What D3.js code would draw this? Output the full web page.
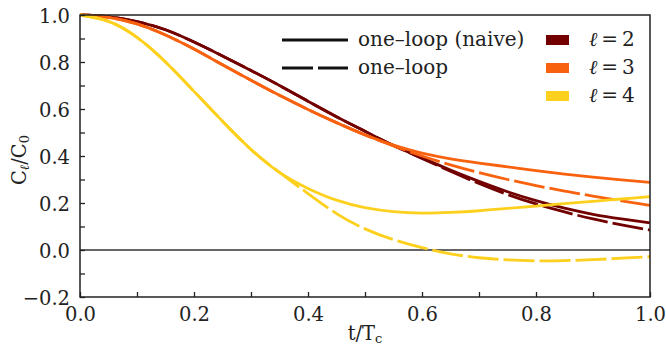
<!DOCTYPE html>
<html>
<head>
<meta charset="utf-8">
<script src="https://cdn.jsdelivr.net/npm/d3@7"></script>
<style>
  body { margin: 0; background: #fff; }
  text { font-family: "DejaVu Serif", serif; fill: #222; }
</style>
</head>
<body>
<div class="chart"></div>
<script>
var svgWidth = 666;
var svgHeight = 353;

var margin = { top: 15, right: 16, bottom: 56, left: 80 };
var width = svgWidth - margin.left - margin.right;
var height = svgHeight - margin.top - margin.bottom;

// t/Tc sample points
var tValues = [0, 0.05, 0.1, 0.15, 0.2, 0.25, 0.3, 0.35, 0.4, 0.45, 0.5,
  0.55, 0.6, 0.65, 0.7, 0.75, 0.8, 0.85, 0.9, 0.95, 1.0];

// one-loop (naive), solid
var naiveL2 = [1.0, 0.993, 0.972, 0.937, 0.885, 0.826, 0.764, 0.70, 0.633, 0.567, 0.505,
  0.445, 0.392, 0.34, 0.292, 0.248, 0.21, 0.178, 0.152, 0.132, 0.115];
var naiveL3 = [1.0, 0.99, 0.962, 0.915, 0.855, 0.788, 0.722, 0.658, 0.598, 0.542, 0.49,
  0.446, 0.412, 0.388, 0.37, 0.354, 0.338, 0.323, 0.31, 0.298, 0.288];
var naiveL4 = [1.0, 0.973, 0.905, 0.80, 0.675, 0.548, 0.428, 0.33, 0.262, 0.212, 0.18,
  0.163, 0.157, 0.16, 0.167, 0.177, 0.187, 0.197, 0.207, 0.217, 0.227];

// one-loop, dashed
var loopL2 = [1.0, 0.993, 0.972, 0.937, 0.885, 0.826, 0.764, 0.70, 0.633, 0.567, 0.505,
  0.445, 0.39, 0.335, 0.283, 0.236, 0.196, 0.162, 0.132, 0.107, 0.085];
var loopL3 = [1.0, 0.99, 0.962, 0.915, 0.855, 0.788, 0.722, 0.658, 0.598, 0.542, 0.49,
  0.443, 0.40, 0.362, 0.329, 0.30, 0.274, 0.251, 0.229, 0.209, 0.19];
var loopL4 = [1.0, 0.973, 0.905, 0.80, 0.675, 0.548, 0.428, 0.33, 0.24, 0.155, 0.09,
  0.044, 0.01, -0.016, -0.033, -0.042, -0.046, -0.045, -0.041, -0.035, -0.028];

var ells = ["2", "3", "4"];
var colors = ["#730000", "#f8620e", "#fdd01e"];

var xTicks = d3.range(0, 1.0001, 0.1);
var yTicks = d3.range(-0.2, 1.0001, 0.1);

var svg = d3.select(".chart")
  .append("svg")
  .attr("width", svgWidth)
  .attr("height", svgHeight);

var chartGroup = svg.append("g")
  .attr("transform", `translate(${margin.left}, ${margin.top})`);

var xScale = d3.scaleLinear().domain([0, 1]).range([0, width]);
var yScale = d3.scaleLinear().domain([-0.2, 1.0]).range([height, 0]);

// zero line
chartGroup.append("line")
  .attr("x1", 0).attr("x2", width)
  .attr("y1", yScale(0)).attr("y2", yScale(0))
  .attr("stroke", "#333").attr("stroke-width", 1.5);

// curves
var line = d3.line()
  .x(d => xScale(d[0]))
  .y(d => yScale(d[1]))
  .curve(d3.curveNatural);

var naive = [naiveL2, naiveL3, naiveL4];
var loop = [loopL2, loopL3, loopL4];

naive.forEach(function(vals, i) {
  chartGroup.append("path")
    .datum(tValues.map((t, j) => [t, vals[j]]))
    .attr("d", line)
    .attr("fill", "none")
    .attr("stroke", colors[i])
    .attr("stroke-width", 2.8);
  chartGroup.append("path")
    .datum(tValues.map((t, j) => [t, loop[i][j]]))
    .attr("d", line)
    .attr("fill", "none")
    .attr("stroke", colors[i])
    .attr("stroke-width", 2.8)
    .attr("stroke-dasharray", "31,5");
});

// axes, ticks inside
var fmt = d3.format(".1f");
var bottomAxis = d3.axisBottom(xScale)
  .tickValues(xTicks)
  .tickSizeInner(-5).tickSizeOuter(0).tickPadding(10)
  .tickFormat(d => Math.round(d * 10) % 2 === 0 ? fmt(d) : "");
var leftAxis = d3.axisLeft(yScale)
  .tickValues(yTicks)
  .tickSizeInner(-5).tickSizeOuter(0).tickPadding(10)
  .tickFormat(d => Math.round(d * 10) % 2 === 0 ? fmt(d).replace("-", "\u2212") : "");

var xAxis = chartGroup.append("g")
  .attr("transform", `translate(0, ${height})`)
  .call(bottomAxis);
var yAxis = chartGroup.append("g")
  .call(leftAxis);

[xAxis, yAxis].forEach(function(ax) {
  ax.select(".domain").remove();
  ax.selectAll(".tick line").attr("stroke", "#222").attr("stroke-width", 1.3);
  ax.selectAll(".tick text")
    .style("font-family", "'DejaVu Serif', serif")
    .style("font-size", "19.5px")
    .attr("fill", "#222");
});
yAxis.selectAll(".tick text").attr("dy", "0.36em");
xAxis.selectAll(".tick text").attr("dy", "0.72em");

// frame
chartGroup.append("rect")
  .attr("x", 0).attr("y", 0)
  .attr("width", width).attr("height", height)
  .attr("fill", "none")
  .attr("stroke", "#222")
  .attr("stroke-width", 1.5);

// axis labels
var xLabel = svg.append("text")
  .attr("x", margin.left + width / 2)
  .attr("y", 340)
  .attr("text-anchor", "middle")
  .style("font-size", "19.5px");
xLabel.append("tspan").text("t/T");
xLabel.append("tspan").attr("baseline-shift", "-25%").style("font-size", "13px").text("c");

var yLabel = svg.append("text")
  .attr("transform", `translate(26, ${margin.top + height / 2 + 4}) rotate(-90)`)
  .attr("text-anchor", "middle")
  .style("font-size", "19.5px");
yLabel.append("tspan").text("C");
yLabel.append("tspan").attr("baseline-shift", "-25%").style("font-size", "13px")
  .style("font-style", "italic").text("\u2113");
yLabel.append("tspan").text("/C");
yLabel.append("tspan").attr("baseline-shift", "-25%").style("font-size", "13px").text("0");

// legend: line styles
var legendLines = [
  { label: "one\u2013loop (naive)", dash: null, y: 40 },
  { label: "one\u2013loop", dash: "31,5", y: 68 }
];
legendLines.forEach(function(d) {
  svg.append("line")
    .attr("x1", 282).attr("x2", 348)
    .attr("y1", d.y).attr("y2", d.y)
    .attr("stroke", "#111").attr("stroke-width", 2.8)
    .attr("stroke-dasharray", d.dash);
  svg.append("text")
    .attr("x", 358).attr("y", d.y + 6)
    .style("font-size", "20px")
    .text(d.label);
});

// legend: colours
ells.forEach(function(ell, i) {
  var yy = 40 + i * 28;
  svg.append("rect")
    .attr("x", 546).attr("y", yy - 5)
    .attr("width", 23).attr("height", 10)
    .attr("fill", colors[i]);
  var t = svg.append("text")
    .attr("x", 589).attr("y", yy + 6)
    .style("font-size", "20px");
  t.append("tspan").style("font-style", "italic").text("\u2113");
  t.append("tspan").text("\u2009=\u2009" + ell);
});
</script>
</body>
</html>
